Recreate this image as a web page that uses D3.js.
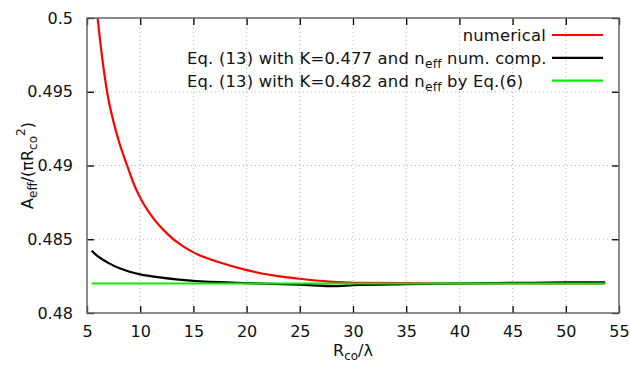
<!DOCTYPE html>
<html>
<head>
<meta charset="utf-8">
<script src="https://cdn.jsdelivr.net/npm/d3@7"></script>
<style>
  body { margin: 0; background: #fff; }
  text { font-family: "DejaVu Sans", Verdana, sans-serif; fill: #111; }
</style>
</head>
<body>
<script>
// size of the svg
var w = 630;
var h = 365;
var margin = {top: 18, right: 11, bottom: 52, left: 87};

// data
var numericalX = [5.44, 6, 6.5, 7, 7.5, 8, 8.73, 9.5, 10, 11, 12.5, 14, 15, 17.5, 20, 22.5, 25, 27.8, 30, 35, 40, 45, 50, 53.7];
var numericalY = [0.5044, 0.5, 0.49689, 0.49456, 0.49294, 0.49163, 0.49008, 0.48858, 0.48782, 0.48665, 0.4854, 0.48453, 0.48411, 0.48342, 0.48291, 0.48255, 0.48232, 0.48213, 0.48205, 0.48203, 0.482, 0.482, 0.482, 0.482];

var k477X = [5.44, 6, 7, 8, 9, 10, 12, 15, 20, 25, 28.3, 30, 35, 40, 45, 50, 53.7];
var k477Y = [0.48422, 0.48385, 0.4834, 0.48305, 0.4828, 0.48262, 0.4824, 0.48218, 0.48203, 0.48192, 0.48182, 0.48188, 0.48195, 0.482, 0.48204, 0.48207, 0.48208];

var k482X = [5.44, 53.7];
var k482Y = [0.482, 0.482];

var xTicks = [5, 10, 15, 20, 25, 30, 35, 40, 45, 50, 55];
var yTicks = [0.48, 0.485, 0.49, 0.495, 0.5];
var yTickLabels = ["0.48", "0.485", "0.49", "0.495", "0.5"];

var series = [
  {name: "numerical", color: "#ff0000", xs: numericalX, ys: numericalY},
  {name: "k477", color: "#000000", xs: k477X, ys: k477Y},
  {name: "k482", color: "#10e810", xs: k482X, ys: k482Y}
];

var svg = d3.select("body").append("svg")
    .attr("width", w)
    .attr("height", h);

var x = d3.scaleLinear().domain([5, 55]).range([margin.left, w - margin.right]);
var y = d3.scaleLinear().domain([0.48, 0.5]).range([h - margin.bottom, margin.top]);

svg.append("clipPath").attr("id", "clip")
  .append("rect")
    .attr("x", margin.left).attr("y", margin.top)
    .attr("width", x.range()[1] - margin.left)
    .attr("height", y.range()[0] - margin.top);

// grid
var grid = svg.append("g").attr("stroke", "#b8b8b8").attr("stroke-dasharray", "1,3").attr("stroke-width", 1);
grid.selectAll(".gx").data(xTicks.slice(1, -1)).enter().append("line")
    .attr("x1", function(d) { return x(d); }).attr("x2", function(d) { return x(d); })
    .attr("y1", y.range()[0]).attr("y2", y.range()[1]);
grid.selectAll(".gy").data(yTicks.slice(1, -1)).enter().append("line")
    .attr("y1", function(d) { return y(d); }).attr("y2", function(d) { return y(d); })
    .attr("x1", x.range()[0]).attr("x2", x.range()[1]);

// curves
var line = d3.line().curve(d3.curveMonotoneX);
var curves = svg.append("g").attr("clip-path", "url(#clip)");
series.forEach(function(s) {
  var pts = s.xs.map(function(v, i) { return [x(v), y(s.ys[i])]; });
  curves.append("path")
      .attr("d", line(pts))
      .attr("fill", "none")
      .attr("stroke", s.color)
      .attr("stroke-width", 2.2);
});

// axes with inward ticks, mirrored
var tickLen = 7;
svg.append("g").attr("transform", "translate(0," + y.range()[0] + ")")
    .call(d3.axisBottom(x).tickValues(xTicks).tickSize(-tickLen).tickPadding(tickLen + 6).tickFormat(d3.format("d")))
    .call(function(g) { g.select(".domain").remove(); g.selectAll("text").attr("font-size", 16).attr("font-family", null); });
svg.append("g").attr("transform", "translate(0," + y.range()[1] + ")")
    .call(d3.axisTop(x).tickValues(xTicks).tickSize(-tickLen).tickFormat(""))
    .call(function(g) { g.select(".domain").remove(); });
svg.append("g").attr("transform", "translate(" + x.range()[0] + ",0)")
    .call(d3.axisLeft(y).tickValues(yTicks).tickSize(-tickLen).tickPadding(tickLen + 7)
      .tickFormat(function(d, i) { return yTickLabels[i]; }))
    .call(function(g) { g.select(".domain").remove(); g.selectAll("text").attr("font-size", 16).attr("font-family", null); });
svg.append("g").attr("transform", "translate(" + x.range()[1] + ",0)")
    .call(d3.axisRight(y).tickValues(yTicks).tickSize(-tickLen).tickFormat(""))
    .call(function(g) { g.select(".domain").remove(); });
svg.selectAll(".tick line").attr("stroke", "#000").attr("stroke-width", 1.3);

// frame
svg.append("rect")
    .attr("x", x.range()[0]).attr("y", y.range()[1])
    .attr("width", x.range()[1] - x.range()[0])
    .attr("height", y.range()[0] - y.range()[1])
    .attr("fill", "none").attr("stroke", "#666").attr("stroke-width", 1.5);

// legend
var legendRows = [
  [{t: "numerical"}],
  [{t: "Eq. (13) with K=0.477 and n"}, {t: "eff", sub: true}, {t: " num. comp."}],
  [{t: "Eq. (13) with K=0.482 and n"}, {t: "eff", sub: true}, {t: " by Eq.(6)"}]
];
var legend = svg.append("g");
legendRows.forEach(function(row, i) {
  var yy = 35 + i * 22.8;
  var t = legend.append("text")
      .attr("x", i < 1 ? 546 : 187).attr("y", yy + 6)
      .attr("text-anchor", i < 1 ? "end" : "start").attr("font-size", 16.4)
      .attr("letter-spacing", 0.18);
  row.forEach(function(part) {
    var sp = t.append("tspan").text(part.t);
    if (part.sub) sp.attr("font-size", 12.3).attr("dy", 4);
    else if (t.selectAll("tspan").size() > 1) sp.attr("dy", -4);
  });
  legend.append("line")
      .attr("x1", 552).attr("x2", 603)
      .attr("y1", yy).attr("y2", yy)
      .attr("stroke", series[i].color).attr("stroke-width", 2.2);
});

// axis labels
var xl = svg.append("text")
    .attr("x", (x.range()[0] + x.range()[1]) / 2).attr("y", 356)
    .attr("text-anchor", "middle").attr("font-size", 16);
xl.append("tspan").text("R");
xl.append("tspan").text("co").attr("font-size", 12).attr("dy", 4);
xl.append("tspan").text("/λ").attr("dy", -4);

var yl = svg.append("text")
    .attr("transform", "translate(33," + ((y.range()[0] + y.range()[1]) / 2) + ") rotate(-90)")
    .attr("text-anchor", "middle").attr("font-size", 16);
yl.append("tspan").text("A");
yl.append("tspan").text("eff").attr("font-size", 12).attr("dy", 4);
yl.append("tspan").text("/(πR").attr("dy", -4);
yl.append("tspan").text("co").attr("font-size", 12).attr("dy", 4);
yl.append("tspan").text("2").attr("font-size", 12).attr("dy", -12);
yl.append("tspan").text(")").attr("dy", 8);
</script>
</body>
</html>
